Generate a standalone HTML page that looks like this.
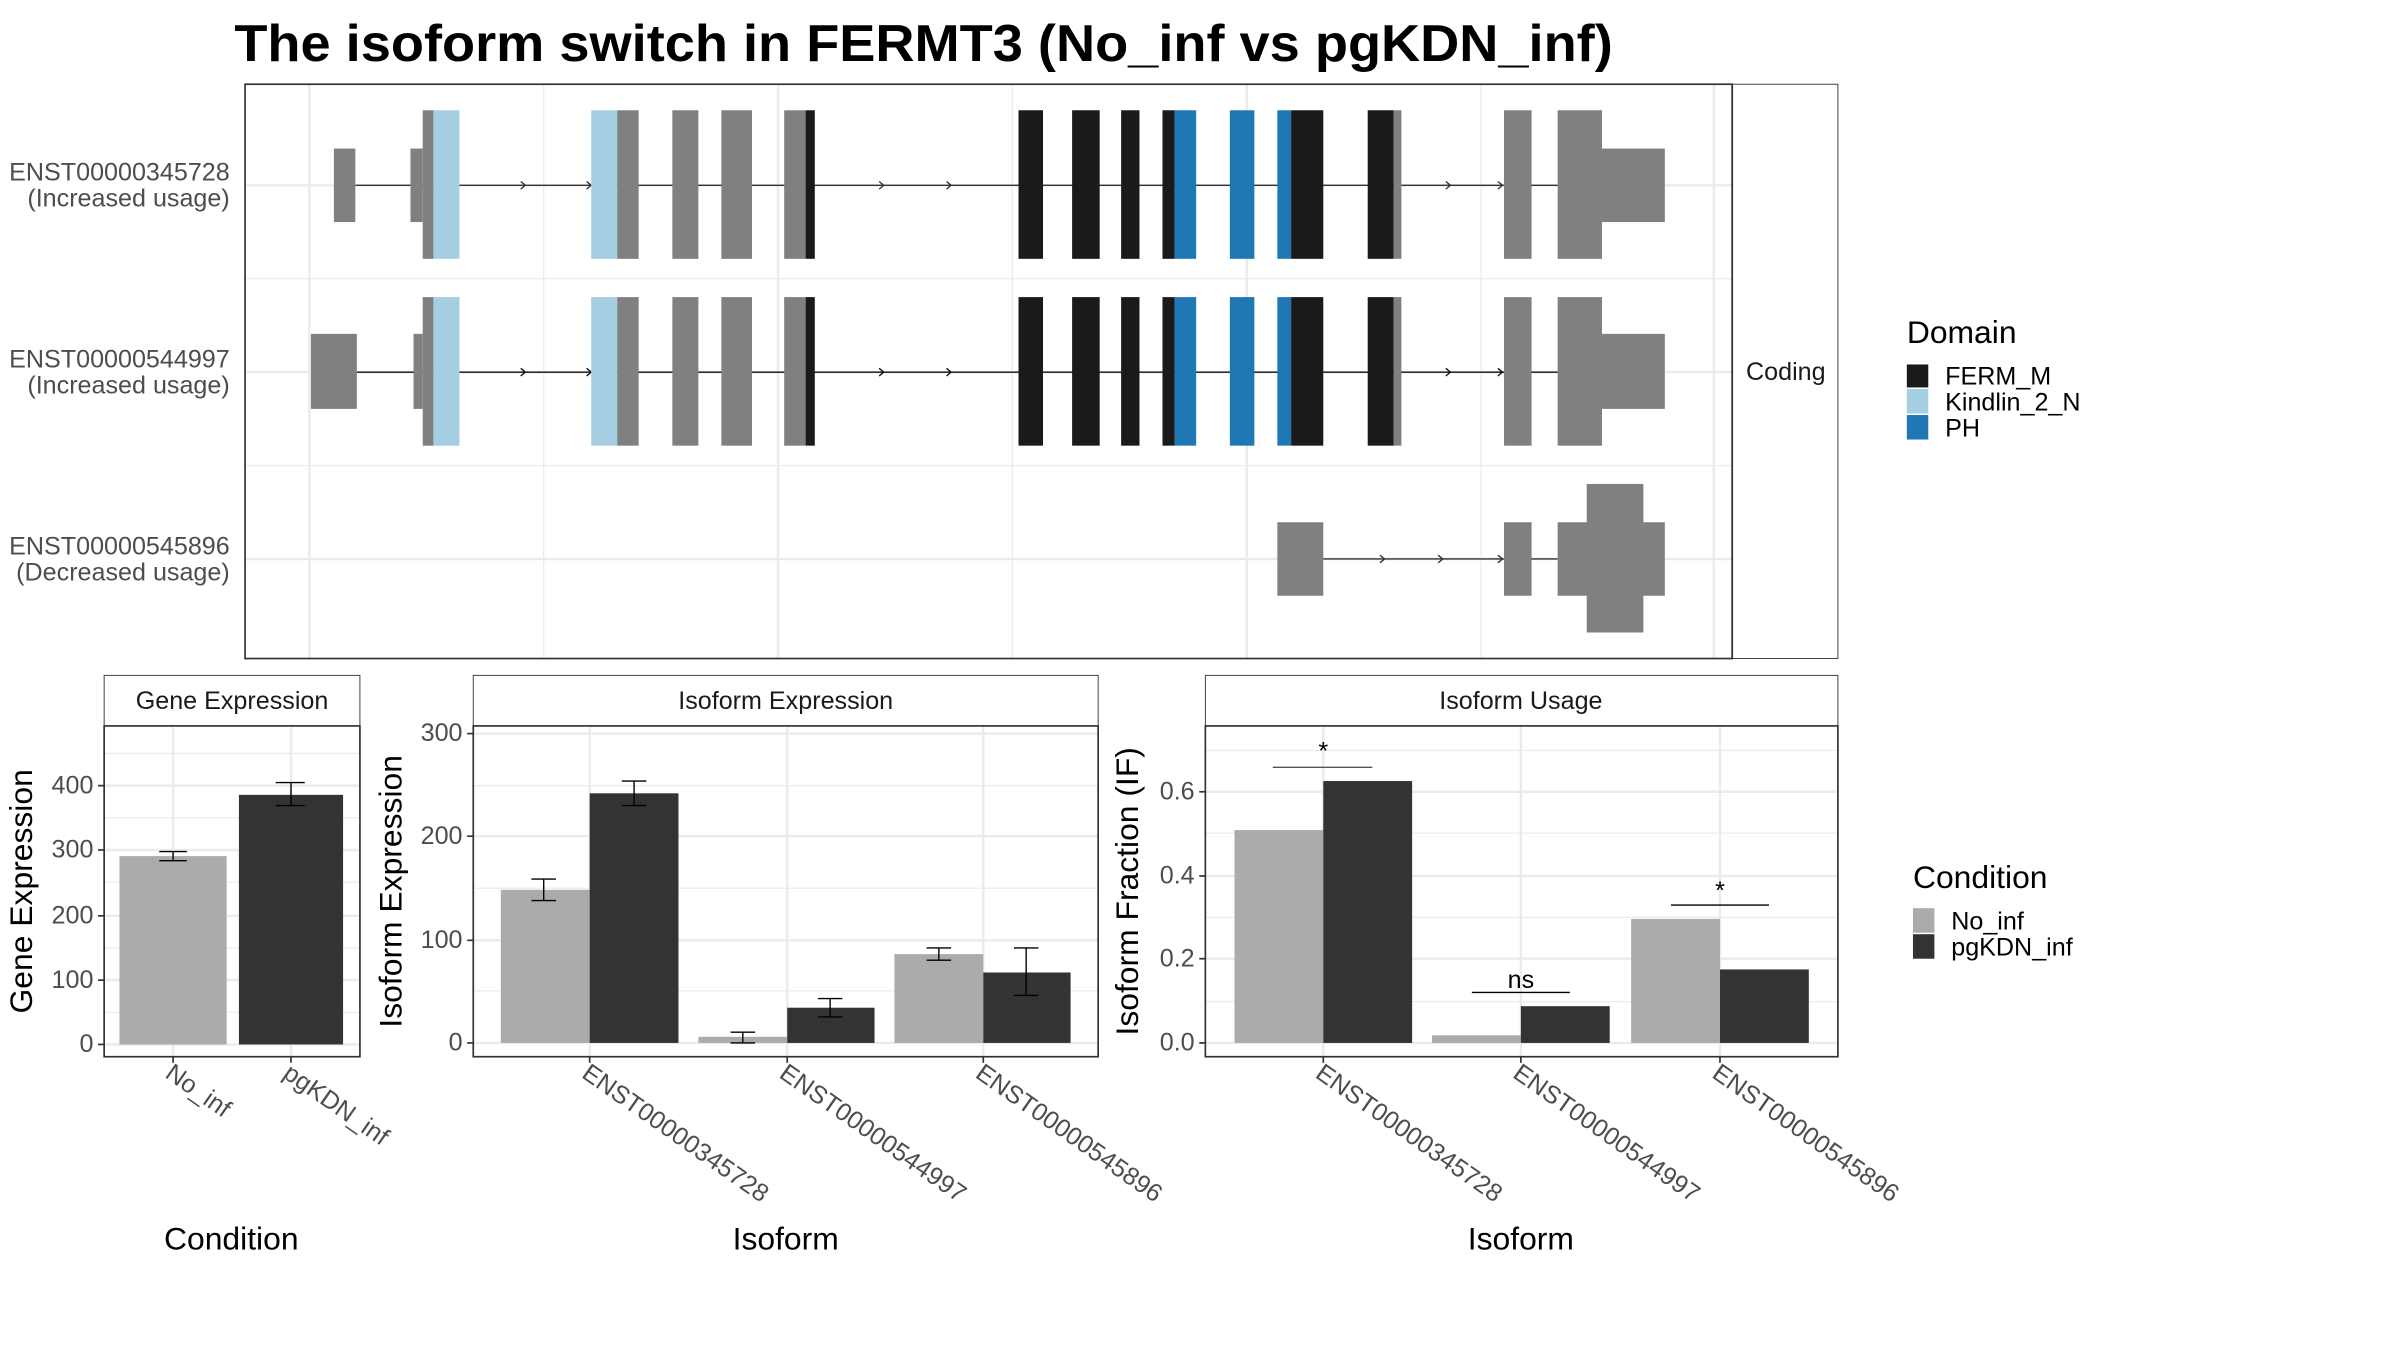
<!DOCTYPE html>
<html><head><meta charset="utf-8"><style>
html,body{margin:0;padding:0;background:#fff}
svg{display:block}
text{font-family:"Liberation Sans",sans-serif}
</style></head><body>
<svg width="2400" height="1350" viewBox="0 0 1567 881.5" preserveAspectRatio="none" xmlns="http://www.w3.org/2000/svg">
<rect width="1567" height="882" fill="#fff"/>
<text x="153" y="40" font-size="34" font-weight="bold" fill="#000" textLength="900" lengthAdjust="spacingAndGlyphs">The isoform switch in FERMT3 (No_inf vs pgKDN_inf)</text>

<!-- top panel -->
<g stroke="#ebebeb" stroke-width="0.8">
<line x1="160" y1="182" x2="1131" y2="182"/><line x1="160" y1="304" x2="1131" y2="304"/>
<line x1="355" y1="55" x2="355" y2="430"/><line x1="661" y1="55" x2="661" y2="430"/><line x1="967" y1="55" x2="967" y2="430"/>
</g>
<g stroke="#ebebeb" stroke-width="1.6">
<line x1="160" y1="121" x2="1131" y2="121"/><line x1="160" y1="243" x2="1131" y2="243"/><line x1="160" y1="365" x2="1131" y2="365"/>
<line x1="202" y1="55" x2="202" y2="430"/><line x1="508" y1="55" x2="508" y2="430"/><line x1="814" y1="55" x2="814" y2="430"/><line x1="1119" y1="55" x2="1119" y2="430"/>
</g>

<!-- row1 -->
<g>
<line x1="232" y1="121" x2="1017" y2="121" stroke="#333" stroke-width="0.9"/>
<g fill="none" stroke="#333" stroke-width="0.9"><path d="M340 118.5 L343 121 L340 123.5"/><path d="M383 118.5 L386 121 L383 123.5"/><path d="M574 118.5 L577 121 L574 123.5"/><path d="M618 118.5 L621 121 L618 123.5"/><path d="M944 118.5 L947 121 L944 123.5"/><path d="M978 118.5 L981 121 L978 123.5"/></g>
<rect x="218" y="97" width="14" height="48" fill="#808080"/>
<rect x="268" y="97" width="8" height="48" fill="#808080"/>
<rect x="276" y="72" width="7" height="97" fill="#808080"/>
<rect x="283" y="72" width="17" height="97" fill="#a6cee3"/>
<rect x="386" y="72" width="17" height="97" fill="#a6cee3"/>
<rect x="403" y="72" width="14" height="97" fill="#808080"/>
<rect x="439" y="72" width="17" height="97" fill="#808080"/>
<rect x="471" y="72" width="20" height="97" fill="#808080"/>
<rect x="512" y="72" width="14" height="97" fill="#808080"/>
<rect x="526" y="72" width="6" height="97" fill="#1a1a1a"/>
<rect x="665" y="72" width="16" height="97" fill="#1a1a1a"/>
<rect x="700" y="72" width="18" height="97" fill="#1a1a1a"/>
<rect x="732" y="72" width="12" height="97" fill="#1a1a1a"/>
<rect x="759" y="72" width="8" height="97" fill="#1a1a1a"/>
<rect x="767" y="72" width="14" height="97" fill="#1f78b4"/>
<rect x="803" y="72" width="16" height="97" fill="#1f78b4"/>
<rect x="834" y="72" width="9" height="97" fill="#1f78b4"/>
<rect x="843" y="72" width="21" height="97" fill="#1a1a1a"/>
<rect x="893" y="72" width="17" height="97" fill="#1a1a1a"/>
<rect x="910" y="72" width="5" height="97" fill="#808080"/>
<rect x="982" y="72" width="18" height="97" fill="#808080"/>
<rect x="1017" y="72" width="29" height="97" fill="#808080"/>
<rect x="1046" y="97" width="41" height="48" fill="#808080"/>
</g>
<!-- row2 -->
<g>
<line x1="233" y1="243" x2="1017" y2="243" stroke="#111" stroke-width="0.9"/>
<g fill="none" stroke="#111" stroke-width="0.9"><path d="M340 240.5 L343 243 L340 245.5"/><path d="M383 240.5 L386 243 L383 245.5"/><path d="M574 240.5 L577 243 L574 245.5"/><path d="M618 240.5 L621 243 L618 245.5"/><path d="M944 240.5 L947 243 L944 245.5"/><path d="M978 240.5 L981 243 L978 245.5"/></g>
<rect x="203" y="218" width="30" height="49" fill="#808080"/>
<rect x="270" y="218" width="6" height="49" fill="#808080"/>
<rect x="276" y="194" width="7" height="97" fill="#808080"/>
<rect x="283" y="194" width="17" height="97" fill="#a6cee3"/>
<rect x="386" y="194" width="17" height="97" fill="#a6cee3"/>
<rect x="403" y="194" width="14" height="97" fill="#808080"/>
<rect x="439" y="194" width="17" height="97" fill="#808080"/>
<rect x="471" y="194" width="20" height="97" fill="#808080"/>
<rect x="512" y="194" width="14" height="97" fill="#808080"/>
<rect x="526" y="194" width="6" height="97" fill="#1a1a1a"/>
<rect x="665" y="194" width="16" height="97" fill="#1a1a1a"/>
<rect x="700" y="194" width="18" height="97" fill="#1a1a1a"/>
<rect x="732" y="194" width="12" height="97" fill="#1a1a1a"/>
<rect x="759" y="194" width="8" height="97" fill="#1a1a1a"/>
<rect x="767" y="194" width="14" height="97" fill="#1f78b4"/>
<rect x="803" y="194" width="16" height="97" fill="#1f78b4"/>
<rect x="834" y="194" width="9" height="97" fill="#1f78b4"/>
<rect x="843" y="194" width="21" height="97" fill="#1a1a1a"/>
<rect x="893" y="194" width="17" height="97" fill="#1a1a1a"/>
<rect x="910" y="194" width="5" height="97" fill="#808080"/>
<rect x="982" y="194" width="18" height="97" fill="#808080"/>
<rect x="1017" y="194" width="29" height="97" fill="#808080"/>
<rect x="1046" y="218" width="41" height="49" fill="#808080"/>
</g>
<!-- row3 -->
<g>
<line x1="864" y1="365" x2="1017" y2="365" stroke="#333" stroke-width="0.9"/>
<g fill="none" stroke="#333" stroke-width="0.9"><path d="M901 362.5 L904 365 L901 367.5"/><path d="M939 362.5 L942 365 L939 367.5"/><path d="M978 362.5 L981 365 L978 367.5"/></g>
<rect x="834" y="341" width="30" height="48" fill="#808080"/>
<rect x="982" y="341" width="18" height="48" fill="#808080"/>
<rect x="1017" y="341" width="70" height="48" fill="#808080"/>
<rect x="1036" y="316" width="37" height="97" fill="#808080"/>
</g>
<rect x="160" y="55" width="971" height="375" fill="none" stroke="#333" stroke-width="1.1"/>
<rect x="1131" y="55" width="69" height="375" fill="#fff" stroke="#333" stroke-width="0.6"/>
<line x1="1131" y1="55" x2="1131" y2="430" stroke="#333" stroke-width="1.1"/>
<text x="1166" y="248" font-size="16.4" text-anchor="middle" fill="#1a1a1a">Coding</text>

<g font-size="16.4" fill="#4d4d4d" text-anchor="end">
<text x="150" y="118">ENST00000345728</text><text x="150" y="135">(Increased usage)</text>
<text x="150" y="240">ENST00000544997</text><text x="150" y="257">(Increased usage)</text>
<text x="150" y="362">ENST00000545896</text><text x="150" y="379">(Decreased usage)</text>
</g>

<!-- Domain legend -->
<text x="1245" y="224" font-size="20.8" fill="#000">Domain</text>
<rect x="1245" y="238" width="14" height="15" fill="#1a1a1a"/>
<rect x="1245" y="254" width="14" height="16" fill="#a6cee3"/>
<rect x="1245" y="271" width="14" height="16" fill="#1f78b4"/>
<g font-size="16.4" fill="#000"><text x="1270" y="251">FERM_M</text><text x="1270" y="268">Kindlin_2_N</text><text x="1270" y="285">PH</text></g>

<!-- Gene Expression -->
<rect x="68" y="441" width="167" height="33" fill="#fff" stroke="#333" stroke-width="0.6"/>
<text x="151.5" y="463" font-size="16.4" text-anchor="middle" fill="#1a1a1a">Gene Expression</text>
<g stroke="#ebebeb" stroke-width="0.8"><line x1="68" y1="661" x2="235" y2="661"/><line x1="68" y1="619" x2="235" y2="619"/><line x1="68" y1="576" x2="235" y2="576"/><line x1="68" y1="534" x2="235" y2="534"/><line x1="68" y1="492" x2="235" y2="492"/></g>
<g stroke="#ebebeb" stroke-width="1.6"><line x1="68" y1="682" x2="235" y2="682"/><line x1="68" y1="640" x2="235" y2="640"/><line x1="68" y1="598" x2="235" y2="598"/><line x1="68" y1="555" x2="235" y2="555"/><line x1="68" y1="513" x2="235" y2="513"/><line x1="113" y1="474" x2="113" y2="690"/><line x1="190" y1="474" x2="190" y2="690"/></g>
<rect x="78" y="559" width="70" height="123" fill="#ababab"/>
<rect x="156" y="519" width="68" height="163" fill="#333"/>
<g stroke="#000" stroke-width="0.9" fill="none"><path d="M104 556 H122 M113 556 V562 M104 562 H122"/><path d="M180 511 H199 M190 511 V526 M180 526 H199"/></g>
<rect x="68" y="474" width="167" height="216" fill="none" stroke="#333" stroke-width="1.1"/>
<g stroke="#333" stroke-width="1.1"><line x1="64" y1="682" x2="68" y2="682"/><line x1="64" y1="640" x2="68" y2="640"/><line x1="64" y1="598" x2="68" y2="598"/><line x1="64" y1="555" x2="68" y2="555"/><line x1="64" y1="513" x2="68" y2="513"/><line x1="113" y1="690" x2="113" y2="694"/><line x1="190" y1="690" x2="190" y2="694"/></g>
<g font-size="16.4" fill="#4d4d4d" text-anchor="end"><text x="61" y="687">0</text><text x="61" y="645">100</text><text x="61" y="603">200</text><text x="61" y="560">300</text><text x="61" y="518">400</text></g>
<g font-size="16.4" fill="#4d4d4d"><text transform="translate(107,703) rotate(35)">No_inf</text><text transform="translate(184,703) rotate(35)">pgKDN_inf</text></g>
<text x="151" y="816" font-size="20.8" text-anchor="middle" fill="#000">Condition</text>
<text transform="translate(21,582) rotate(-90)" font-size="20.8" text-anchor="middle" fill="#000">Gene Expression</text>

<!-- Isoform Expression -->
<rect x="309" y="441" width="408" height="33" fill="#fff" stroke="#333" stroke-width="0.6"/>
<text x="513" y="463" font-size="16.4" text-anchor="middle" fill="#1a1a1a">Isoform Expression</text>
<g stroke="#ebebeb" stroke-width="0.8"><line x1="309" y1="647" x2="717" y2="647"/><line x1="309" y1="580" x2="717" y2="580"/><line x1="309" y1="513" x2="717" y2="513"/></g>
<g stroke="#ebebeb" stroke-width="1.6"><line x1="309" y1="681" x2="717" y2="681"/><line x1="309" y1="614" x2="717" y2="614"/><line x1="309" y1="546" x2="717" y2="546"/><line x1="309" y1="479" x2="717" y2="479"/><line x1="385" y1="474" x2="385" y2="690"/><line x1="514" y1="474" x2="514" y2="690"/><line x1="642" y1="474" x2="642" y2="690"/></g>
<rect x="327" y="581" width="58" height="100" fill="#ababab"/>
<rect x="385" y="518" width="58" height="163" fill="#333"/>
<rect x="456" y="677" width="58" height="4" fill="#ababab"/>
<rect x="514" y="658" width="57" height="23" fill="#333"/>
<rect x="584" y="623" width="58" height="58" fill="#ababab"/>
<rect x="642" y="635" width="57" height="46" fill="#333"/>
<g stroke="#000" stroke-width="0.9" fill="none">
<path d="M347 574 H363 M355 574 V588 M347 588 H363"/>
<path d="M406 510 H422 M414 510 V526 M406 526 H422"/>
<path d="M477 674 H493 M485 674 V681 M477 681 H493"/>
<path d="M534 652 H550 M542 652 V664 M534 664 H550"/>
<path d="M605 619 H621 M613 619 V627 M605 627 H621"/>
<path d="M662 619 H678 M670 619 V650 M662 650 H678"/>
</g>
<rect x="309" y="474" width="408" height="216" fill="none" stroke="#333" stroke-width="1.1"/>
<g stroke="#333" stroke-width="1.1"><line x1="305" y1="681" x2="309" y2="681"/><line x1="305" y1="614" x2="309" y2="614"/><line x1="305" y1="546" x2="309" y2="546"/><line x1="305" y1="479" x2="309" y2="479"/><line x1="385" y1="690" x2="385" y2="694"/><line x1="514" y1="690" x2="514" y2="694"/><line x1="642" y1="690" x2="642" y2="694"/></g>
<g font-size="16.4" fill="#4d4d4d" text-anchor="end"><text x="302" y="686">0</text><text x="302" y="619">100</text><text x="302" y="551">200</text><text x="302" y="484">300</text></g>
<g font-size="16.4" fill="#4d4d4d"><text transform="translate(379,703) rotate(35)">ENST00000345728</text><text transform="translate(508,703) rotate(35)">ENST00000544997</text><text transform="translate(636,703) rotate(35)">ENST00000545896</text></g>
<text x="513" y="816" font-size="20.8" text-anchor="middle" fill="#000">Isoform</text>
<text transform="translate(262,582) rotate(-90)" font-size="20.8" text-anchor="middle" fill="#000">Isoform Expression</text>

<!-- Isoform Usage -->
<rect x="787" y="441" width="413" height="33" fill="#fff" stroke="#333" stroke-width="0.6"/>
<text x="993" y="463" font-size="16.4" text-anchor="middle" fill="#1a1a1a">Isoform Usage</text>
<g stroke="#ebebeb" stroke-width="0.8"><line x1="787" y1="654" x2="1200" y2="654"/><line x1="787" y1="599" x2="1200" y2="599"/><line x1="787" y1="544" x2="1200" y2="544"/><line x1="787" y1="490" x2="1200" y2="490"/></g>
<g stroke="#ebebeb" stroke-width="1.6"><line x1="787" y1="681" x2="1200" y2="681"/><line x1="787" y1="626" x2="1200" y2="626"/><line x1="787" y1="572" x2="1200" y2="572"/><line x1="787" y1="517" x2="1200" y2="517"/><line x1="864" y1="474" x2="864" y2="690"/><line x1="993" y1="474" x2="993" y2="690"/><line x1="1123" y1="474" x2="1123" y2="690"/></g>
<rect x="806" y="542" width="58" height="139" fill="#ababab"/>
<rect x="864" y="510" width="58" height="171" fill="#333"/>
<rect x="935" y="676" width="58" height="5" fill="#ababab"/>
<rect x="993" y="657" width="58" height="24" fill="#333"/>
<rect x="1065" y="600" width="58" height="81" fill="#ababab"/>
<rect x="1123" y="633" width="58" height="48" fill="#333"/>
<g stroke="#000" stroke-width="0.9"><line x1="831" y1="501" x2="896" y2="501" stroke="#555"/><line x1="961" y1="648" x2="1025" y2="648"/><line x1="1091" y1="591" x2="1155" y2="591"/></g>
<g font-size="16.4" fill="#000" text-anchor="middle"><text x="864" y="496">*</text><text x="993" y="645">ns</text><text x="1123" y="587">*</text></g>
<rect x="787" y="474" width="413" height="216" fill="none" stroke="#333" stroke-width="1.1"/>
<g stroke="#333" stroke-width="1.1"><line x1="783" y1="681" x2="787" y2="681"/><line x1="783" y1="626" x2="787" y2="626"/><line x1="783" y1="572" x2="787" y2="572"/><line x1="783" y1="517" x2="787" y2="517"/><line x1="864" y1="690" x2="864" y2="694"/><line x1="993" y1="690" x2="993" y2="694"/><line x1="1123" y1="690" x2="1123" y2="694"/></g>
<g font-size="16.4" fill="#4d4d4d" text-anchor="end"><text x="780" y="686">0.0</text><text x="780" y="631">0.2</text><text x="780" y="577">0.4</text><text x="780" y="522">0.6</text></g>
<g font-size="16.4" fill="#4d4d4d"><text transform="translate(858,703) rotate(35)">ENST00000345728</text><text transform="translate(987,703) rotate(35)">ENST00000544997</text><text transform="translate(1117,703) rotate(35)">ENST00000545896</text></g>
<text x="993" y="816" font-size="20.8" text-anchor="middle" fill="#000">Isoform</text>
<text transform="translate(743,582) rotate(-90)" font-size="20.8" text-anchor="middle" fill="#000">Isoform Fraction (IF)</text>

<!-- Condition legend -->
<text x="1249" y="580" font-size="20.8" fill="#000">Condition</text>
<rect x="1249" y="593" width="14" height="16" fill="#ababab"/>
<rect x="1249" y="610" width="14" height="16" fill="#333"/>
<g font-size="16.4" fill="#000"><text x="1274" y="607">No_inf</text><text x="1274" y="624">pgKDN_inf</text></g>
</svg>
</body></html>
